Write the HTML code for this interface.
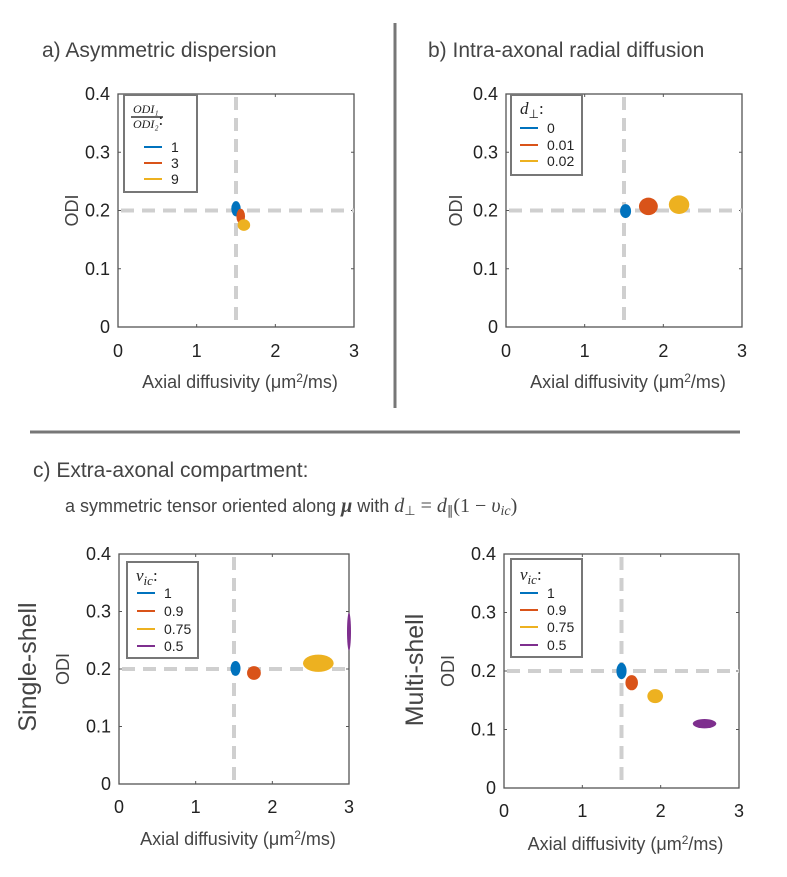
<!DOCTYPE html>
<html><head><meta charset="utf-8"><style>
html,body{margin:0;padding:0;background:#fff;}
svg{display:block;font-family:"Liberation Sans",sans-serif;}
</style></head><body>
<svg id="fig" width="787" height="877" viewBox="0 0 787 877" xmlns="http://www.w3.org/2000/svg">
<text x="42" y="57" font-size="21" fill="#444">a) Asymmetric dispersion</text>
<text x="428" y="57" font-size="21" fill="#444">b) Intra-axonal radial diffusion</text>
<line x1="395" y1="23" x2="395" y2="408" stroke="#777" stroke-width="3"/>
<line x1="30" y1="432" x2="740" y2="432" stroke="#777" stroke-width="3"/>
<text x="33" y="477" font-size="21" fill="#444">c) Extra-axonal compartment:</text>
<text x="65" y="512" font-size="18" fill="#444">a symmetric tensor oriented along <tspan font-family="Liberation Serif,serif" font-style="italic" font-weight="bold" font-size="20">μ</tspan> with <tspan font-family="Liberation Serif,serif" font-style="italic" font-size="20">d</tspan><tspan font-family="Liberation Serif,serif" font-size="13" dy="3">⊥</tspan><tspan font-family="Liberation Serif,serif" font-size="20" dy="-3"> = </tspan><tspan font-family="Liberation Serif,serif" font-style="italic" font-size="20">d</tspan><tspan font-family="Liberation Serif,serif" font-size="13" dy="3">∥</tspan><tspan font-family="Liberation Serif,serif" font-size="20" dy="-3">(1 −  </tspan><tspan font-family="Liberation Serif,serif" font-style="italic" font-size="20">υ</tspan><tspan font-family="Liberation Serif,serif" font-style="italic" font-size="14" dy="3">ic</tspan><tspan font-family="Liberation Serif,serif" font-size="20" dy="-3">)</tspan></text>
<text transform="translate(36,667) rotate(-90)" text-anchor="middle" font-size="25" fill="#444">Single-shell</text>
<text transform="translate(423,670) rotate(-90)" text-anchor="middle" font-size="25" fill="#444">Multi-shell</text>
</svg>
<script>
// Shared axis ticks
const xTicks = [0, 1, 2, 3];
const yTicks = [0, 0.1, 0.2, 0.3, 0.4];
const xTickLabels = ["0", "1", "2", "3"];
const yTickLabels = ["0", "0.1", "0.2", "0.3", "0.4"];
const refX = 1.5;
const refY = 0.2;
const colors = ["#0072BD", "#D95319", "#EDB120", "#7E2F8E"];

// Panel a: cluster centres and spreads
const aLabels = ["1", "3", "9"];
const aX = [1.5, 1.56, 1.6];
const aY = [0.203, 0.19, 0.175];
const aSx = [0.06, 0.055, 0.08];
const aSy = [0.013, 0.013, 0.01];

// Panel b
const bLabels = ["0", "0.01", "0.02"];
const bX = [1.52, 1.81, 2.2];
const bY = [0.199, 0.207, 0.21];
const bSx = [0.07, 0.12, 0.13];
const bSy = [0.012, 0.015, 0.016];

// Panel c single-shell
const cLabels = ["1", "0.9", "0.75", "0.5"];
const c1X = [1.52, 1.76, 2.6, 3.0];
const c1Y = [0.201, 0.193, 0.21, 0.265];
const c1Sx = [0.065, 0.09, 0.2, 0.014];
const c1Sy = [0.013, 0.012, 0.015, 0.033];

// Panel c multi-shell
const c2X = [1.5, 1.63, 1.93, 2.56];
const c2Y = [0.2, 0.18, 0.157, 0.11];
const c2Sx = [0.065, 0.08, 0.1, 0.15];
const c2Sy = [0.014, 0.013, 0.012, 0.008];

const NS = "http://www.w3.org/2000/svg";
const svg = document.getElementById("fig");
function mk(tag, attrs, parent) {
  const e = document.createElementNS(NS, tag);
  for (const k in attrs) e.setAttribute(k, attrs[k]);
  (parent || svg).appendChild(e);
  return e;
}

function panel(id, box, xs, ys, sxs, sys, labels, legend, odiX, xTickY, xLabelY) {
  const g = mk("g", {});
  
  
  const sx = v => box.l + (v / 3) * (box.r - box.l);
  const sy = v => box.b - (v / 0.4) * (box.b - box.t);
  const ax = mk("rect", {x: box.l, y: box.t, width: box.r - box.l, height: box.b - box.t, fill: "#fff", stroke: "#555", "stroke-width": 1.3}, g);
  
  
  xTicks.forEach((t, i) => {
    mk("line", {x1: sx(t), x2: sx(t), y1: box.b, y2: box.b - 3, stroke: "#555"}, g);
    mk("line", {x1: sx(t), x2: sx(t), y1: box.t, y2: box.t + 3, stroke: "#555"}, g);
    const tl = mk("text", {x: sx(t), y: xTickY, "text-anchor": "middle", "font-size": 18, fill: "#222"}, g);
    tl.textContent = xTickLabels[i];
    
    
  });
  yTicks.forEach((t, i) => {
    mk("line", {x1: box.l, x2: box.l + 3, y1: sy(t), y2: sy(t), stroke: "#555"}, g);
    mk("line", {x1: box.r, x2: box.r - 3, y1: sy(t), y2: sy(t), stroke: "#555"}, g);
    const tl = mk("text", {x: box.l - 8, y: sy(t) + 6, "text-anchor": "end", "font-size": 18, fill: "#222"}, g);
    tl.textContent = yTickLabels[i];
    
    
  });
  const rv = mk("line", {x1: sx(refX), x2: sx(refX), y1: box.t, y2: box.b, stroke: "#cfcfcf", "stroke-width": 4, "stroke-dasharray": "13 8", "stroke-dashoffset": -3}, g);
  
  
  const rh = mk("line", {x1: box.l, x2: box.r, y1: sy(refY), y2: sy(refY), stroke: "#cfcfcf", "stroke-width": 4, "stroke-dasharray": "13 8", "stroke-dashoffset": -3}, g);
  
  
  xs.forEach((v, i) => {
    const e = mk("ellipse", {cx: sx(v), cy: sy(ys[i]), rx: Math.max(2, sxs[i] / 3 * (box.r - box.l)), ry: Math.max(2, sys[i] / 0.4 * (box.b - box.t)), fill: colors[i]}, g);
    
    
  });
  const yl = mk("text", {transform: "translate(" + odiX + "," + ((box.t + box.b) / 2) + ") rotate(-90)", "text-anchor": "middle", "font-size": 18, fill: "#444"}, g);
  yl.textContent = "ODI";
  
  
  const xl = mk("text", {x: (box.l + box.r) / 2 + 4, y: xLabelY, "text-anchor": "middle", "font-size": 18, fill: "#444"}, g);
  xl.innerHTML = 'Axial diffusivity (μm<tspan font-size="12" dy="-6">2</tspan><tspan dy="6">/ms)</tspan>';
  
  
  const lg = mk("g", {}, g);
  
  
  mk("rect", {x: legend.x, y: legend.y, width: legend.w, height: legend.h, fill: "#fff", stroke: "#777", "stroke-width": 2}, lg);
  const ttl = mk("text", {x: legend.x + 9, y: legend.titleY, "font-size": 17, "font-family": "Liberation Serif,serif", "font-style": "italic", fill: "#222"}, lg);
  ttl.innerHTML = legend.title;
  labels.forEach((lab, i) => {
    const yy = legend.rows[i];
    mk("line", {x1: legend.lx, x2: legend.lx + 18, y1: yy, y2: yy, stroke: colors[i], "stroke-width": 2}, lg);
    const t = mk("text", {x: legend.lx + 27, y: yy + 5, "font-size": 14, fill: "#222"}, lg);
    t.textContent = lab;
    
    
  });
}

panel("a", {l: 118, r: 354, t: 94, b: 327}, aX, aY, aSx, aSy, aLabels,
  {x: 124, y: 95, w: 73, h: 97, lx: 144, rows: [147, 163, 179], titleY: 113,
   title: '<tspan font-size="12">ODI₁</tspan><tspan x="133" dy="15" font-size="12">ODI₂</tspan><tspan font-style="normal" dy="-3">:</tspan>'},
  78, 357, 388);
mk("line", {x1: 131, x2: 163, y1: 117, y2: 117, stroke: "#333", "stroke-width": 1.5});

panel("b", {l: 506, r: 742, t: 94, b: 327}, bX, bY, bSx, bSy, bLabels,
  {x: 511, y: 95, w: 71, h: 80, lx: 520, rows: [128, 145, 161], titleY: 114,
   title: 'd<tspan font-style="normal" font-size="12" dy="4">⊥</tspan><tspan font-style="normal" dy="-4">:</tspan>'},
  462, 357, 388);

panel("c-single", {l: 119, r: 349, t: 554, b: 784}, c1X, c1Y, c1Sx, c1Sy, cLabels,
  {x: 127, y: 562, w: 71, h: 96, lx: 137, rows: [593, 611, 629, 646], titleY: 581,
   title: 'ν<tspan font-size="13" dy="4">ic</tspan><tspan font-style="normal" dy="-4">:</tspan>'},
  69, 813, 845);

panel("c-multi", {l: 504, r: 739, t: 554, b: 788}, c2X, c2Y, c2Sx, c2Sy, cLabels,
  {x: 511, y: 559, w: 71, h: 98, lx: 520, rows: [593, 610, 627, 645], titleY: 580,
   title: 'ν<tspan font-size="13" dy="4">ic</tspan><tspan font-style="normal" dy="-4">:</tspan>'},
  454, 817, 850);
</script>
</body></html>
